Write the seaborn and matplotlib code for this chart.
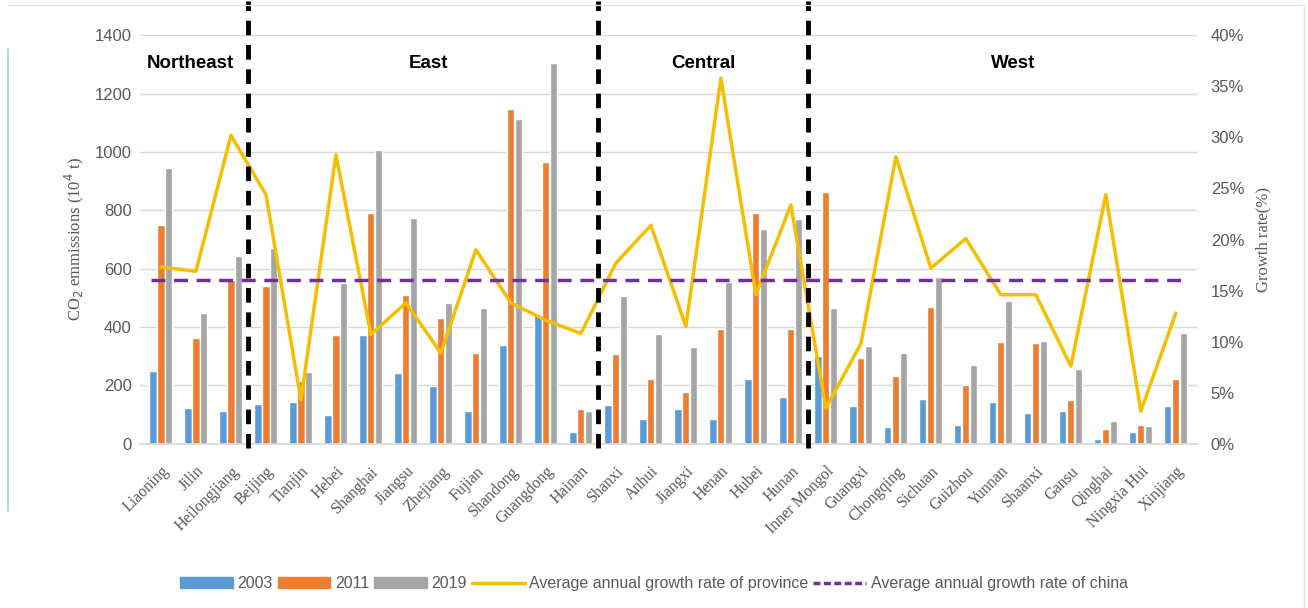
import numpy as np
import pandas as pd
import matplotlib
matplotlib.use("Agg")
import matplotlib.pyplot as plt
import seaborn as sns
from matplotlib.ticker import FuncFormatter
from matplotlib.patches import Patch
from matplotlib.lines import Line2D

provinces = ["Liaoning", "Jilin", "Heilongjiang", "Beijing", "Tianjin", "Hebei", "Shanghai",
             "Jiangsu", "Zhejiang", "Fujian", "Shandong", "Guangdong", "Hainan", "Shanxi",
             "Anhui", "Jiangxi", "Henan", "Hubei", "Hunan", "Inner Mongol", "Guangxi",
             "Chongqing", "Sichuan", "Guizhou", "Yunnan", "Shaanxi", "Gansu", "Qinghai",
             "Ningxia Hui", "Xinjiang"]
e2003 = [251, 122, 111, 137, 145, 99, 373, 242, 199, 112, 339, 440, 39, 134,
         85, 119, 85, 222, 162, 300, 130, 56, 153, 65, 145, 105, 114, 16, 42, 128]
e2011 = [750, 362, 560, 542, 215, 373, 792, 510, 430, 311, 1149, 967, 119, 308,
         222, 176, 393, 792, 395, 862, 293, 233, 468, 200, 350, 347, 151, 50, 65, 222]
e2019 = [946, 450, 645, 672, 245, 552, 1007, 775, 482, 465, 1112, 1304, 111, 505,
         376, 333, 556, 735, 770, 465, 336, 310, 573, 271, 490, 353, 256, 79, 62, 381]
growth_province = [17.3, 16.9, 30.2, 24.4, 4.3, 28.3, 10.7, 13.8, 8.9, 19.0, 13.8, 12.1,
                   10.8, 17.7, 21.4, 11.5, 35.8, 14.6, 23.4, 3.5, 9.8, 28.1, 17.2, 20.1,
                   14.6, 14.6, 7.6, 24.4, 3.2, 12.8]
growth_china = 16.0
years = ["2003", "2011", "2019"]
regions = ["Northeast", "East", "Central", "West"]
region_label_pos = [0.85, 7.65, 15.5, 24.35]
dividers = [2.5, 12.5, 18.5]

colors = {"2003": "#5B9BD5", "2011": "#ED7D31", "2019": "#A5A5A5"}
yellow = "#F5BE00"
purple = "#7030A0"

df = pd.DataFrame({
    "province": provinces * 3,
    "year": [y for y in years for _ in provinces],
    "value": e2003 + e2011 + e2019,
})

sns.set_theme(style="white")
plt.rcParams["font.family"] = ["Liberation Sans", "DejaVu Sans"]

fig = plt.figure(figsize=(13.08, 6.08), dpi=100)
ax = fig.add_axes([0.107, 0.27, 0.808, 0.672])

sns.barplot(data=df, x="province", y="value", hue="year", palette=colors,
            width=0.68, gap=0.1, ax=ax, legend=False, saturation=1)
ax.set_ylim(0, 1400)
ax.set_yticks(np.arange(0, 1401, 200))
ax.yaxis.grid(True, color="#D9D9D9", linewidth=1)
ax.set_axisbelow(True)
for s in ["top", "right", "left"]:
    ax.spines[s].set_visible(False)
ax.spines["bottom"].set_color("#D9D9D9")
ax.set_xlim(-0.6, len(provinces) - 0.4)
ax.tick_params(axis="y", labelsize=12, colors="#595959", length=0, pad=6)
ax.set_xlabel("")
ax.set_ylabel("CO$_2$ emmissions (10$^4$ t)", fontsize=12, color="#595959",
              family="Liberation Serif", labelpad=6)
ax.set_xticks(range(len(provinces)))
ax.set_xticklabels(provinces, rotation=45, ha="right", rotation_mode="anchor",
                   family="Liberation Serif", fontsize=11.5, color="#595959")
ax.tick_params(axis="x", length=0, pad=14)

ax2 = ax.twinx()
sns.lineplot(x=np.arange(len(provinces)), y=growth_province, ax=ax2, color=yellow,
             linewidth=2.5, legend=False)
ax2.axhline(growth_china, xmin=0.01, xmax=0.985, color=purple, linewidth=2.5,
            linestyle=(0, (4, 2.5)))
ax2.set_ylim(0, 40)
ax2.set_yticks(np.arange(0, 41, 5))
ax2.yaxis.set_major_formatter(FuncFormatter(lambda v, p: f"{int(v)}%"))
ax2.tick_params(axis="y", labelsize=12, colors="#595959", length=0, pad=10)
for s in ["top", "right", "left", "bottom"]:
    ax2.spines[s].set_visible(False)
ax2.set_ylabel("Growth rate(%)", fontsize=12, color="#595959",
               family="Liberation Serif", labelpad=8)
ax2.set_xlim(-0.6, len(provinces) - 0.4)

for d in dividers:
    ax2.axvline(d, color="black", linewidth=3.5, linestyle=(0, (3, 2)), ymin=-0.01, ymax=1.085,
                clip_on=False)
for name, pos in zip(regions, region_label_pos):
    ax2.text(pos, 37.2, name, ha="center", va="center", fontsize=13.5,
             fontweight="bold", color="black")

handles = [Patch(color=colors[y], label=y) for y in years] + [
    Line2D([0], [0], color=yellow, linewidth=2.5, label="Average annual growth rate of province"),
    Line2D([0], [0], color=purple, linewidth=2.5, linestyle=(0, (2, 1)),
           label="Average annual growth rate of china"),
]
fig.legend(handles=handles, loc="center", bbox_to_anchor=(0.5, 0.04), ncol=5,
           frameon=False, fontsize=11.5, labelcolor="#595959", handlelength=3.3,
           handleheight=0.7, handletextpad=0.3, columnspacing=0.3)

# faint screenshot frame
fig.add_artist(Line2D([0.006, 0.997], [0.992, 0.992], transform=fig.transFigure,
                      color="#E3E3E3", linewidth=1))
fig.add_artist(Line2D([0.997, 0.997], [0.0, 0.992], transform=fig.transFigure,
                      color="#E3E3E3", linewidth=1))
fig.add_artist(Line2D([0.006, 0.006], [0.16, 0.92], transform=fig.transFigure,
                      color="#A9CBE3", linewidth=1.2))

fig.savefig("out.png", dpi=100)
